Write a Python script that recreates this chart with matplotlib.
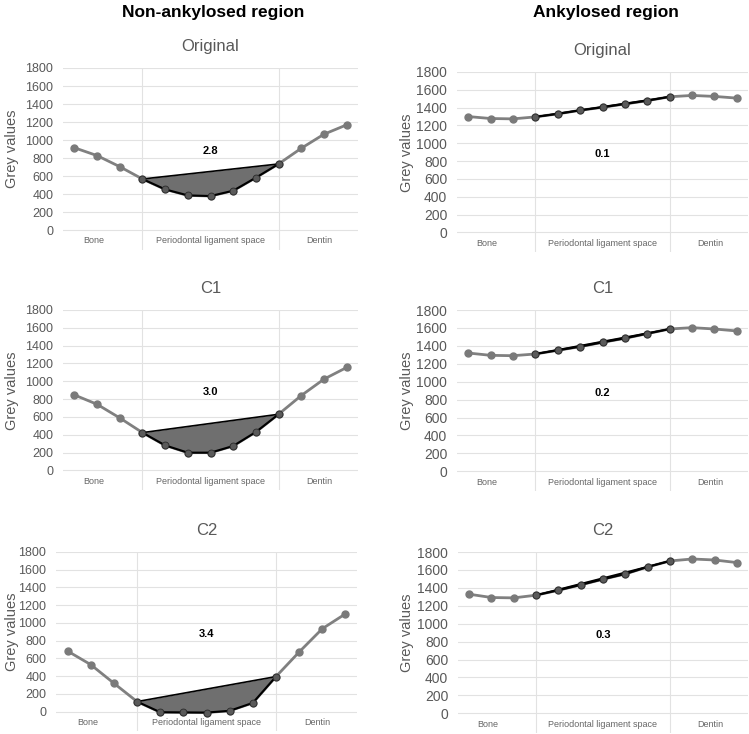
import numpy as np
import matplotlib.pyplot as plt

plt.rcParams["font.family"] = ["Liberation Sans", "DejaVu Sans"]

# 13 sampling points across bone -> PDL -> dentin
points = np.arange(13)
pdl_start, pdl_end = 3, 9
region_labels = ["Bone", "Periodontal ligament space", "Dentin"]
region_label_x = [0.85, 6.0, 10.8]
yticks = np.arange(0, 1801, 200)

non_ank_original = [915, 828, 705, 568, 453, 386, 379, 438, 583, 735, 909, 1065, 1169]
non_ank_c1 = [847, 742, 589, 424, 281, 199, 199, 274, 431, 630, 840, 1024, 1155]
non_ank_c2 = [682, 529, 319, 112, -8, -10, -12, 8, 97, 394, 671, 934, 1102]

ank_original = [1300, 1278, 1274, 1296, 1330, 1370, 1404, 1441, 1478, 1522, 1537, 1526, 1507]
ank_c1 = [1320, 1294, 1290, 1309, 1350, 1391, 1439, 1484, 1536, 1588, 1603, 1588, 1566]
ank_c2 = [1329, 1292, 1288, 1318, 1373, 1433, 1496, 1555, 1633, 1700, 1722, 1711, 1682]

panel_titles = ["Original", "C1", "C2"]
non_ank_areas = ["2.8", "3.0", "3.4"]
ank_areas = ["0.1", "0.2", "0.3"]

GREY_TXT = "#595959"
W, H = 749, 734


def px_axes(fig, left, top, right, bottom):
    return fig.add_axes([left / W, 1 - bottom / H, (right - left) / W, (bottom - top) / H])


def profile_panel(ax, y, title, area, tick_size, label_x):
    y = np.asarray(y, dtype=float)
    ax.set_xlim(-0.5, 12.5)
    ax.set_ylim(-220, 1800)
    for s in ax.spines.values():
        s.set_visible(False)
    ax.set_yticks(yticks)
    ax.set_xticks([])
    ax.tick_params(axis="y", length=0, pad=7, labelsize=tick_size, labelcolor=GREY_TXT)
    for t in yticks:
        ax.plot([-0.5, 12.5], [t, t], color="#e2e2e2", lw=0.8, zorder=0)
    for xv in (pdl_start, pdl_end):
        ax.axvline(xv, color="#e2e2e2", lw=0.8, zorder=0)

    # whole profile in grey
    ax.plot(points, y, color="#808080", lw=2, marker="o", ms=5,
            mfc="#7a7a7a", mec="#7a7a7a", zorder=2)

    # PDL segment and area under the straight chord
    seg = slice(pdl_start, pdl_end + 1)
    xs = points[seg]
    chord = np.interp(xs, [pdl_start, pdl_end], [y[pdl_start], y[pdl_end]])
    ax.fill_between(xs, y[seg], chord, color="#6f6f6f", lw=0, zorder=3)
    ax.plot([pdl_start, pdl_end], [y[pdl_start], y[pdl_end]], color="black", lw=1.2, zorder=4)
    ax.plot(xs, y[seg], color="black", lw=1.5, marker="o", ms=5,
            mfc="#5a5a5a", mec="#2a2a2a", mew=0.6, zorder=5)

    ax.text(6, 875, area, ha="center", va="center", fontsize=8, fontweight="bold")
    for lab, xv in zip(region_labels, region_label_x):
        ax.text(xv, -120, lab, ha="center", va="center", fontsize=6.5, color="#666666")

    ax.set_title(title, fontsize=12, color=GREY_TXT, pad=12)
    ax.set_ylabel("Grey values", fontsize=10.5, color=GREY_TXT)
    ax.yaxis.set_label_coords(label_x, 0.554)


fig = plt.figure(figsize=(W / 100, H / 100), dpi=100)

left_rects = [(63, 68, 358, 250), (63, 310, 358, 490), (56, 552, 357, 731)]
right_rects = [(457, 72, 748, 252), (457, 310, 748, 491), (458, 552, 748, 733)]

for rect, y, title, area in zip(left_rects, [non_ank_original, non_ank_c1, non_ank_c2],
                                panel_titles, non_ank_areas):
    lx = (19 - rect[0]) / (rect[2] - rect[0])
    profile_panel(px_axes(fig, *rect), y, title, area, 9, lx)

for rect, y, title, area in zip(right_rects, [ank_original, ank_c1, ank_c2],
                                panel_titles, ank_areas):
    lx = (414 - rect[0]) / (rect[2] - rect[0])
    profile_panel(px_axes(fig, *rect), y, title, area, 10, lx)

fig.text(213 / W, 1 - 17 / H, "Non-ankylosed region", ha="center", va="baseline",
         fontsize=12.5, fontweight="bold")
fig.text(606 / W, 1 - 17 / H, "Ankylosed region", ha="center", va="baseline",
         fontsize=12.5, fontweight="bold")

fig.savefig("out.png", dpi=100, facecolor="white")
